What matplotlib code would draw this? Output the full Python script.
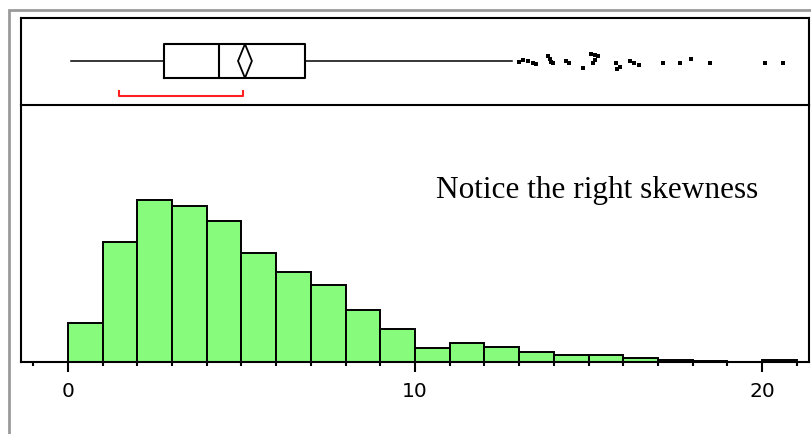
import matplotlib
matplotlib.use("Agg")
import matplotlib.pyplot as plt
from matplotlib.patches import Rectangle, Polygon

# histogram: bins of width 1 starting at 0, heights
bin_left = list(range(0, 21))
counts = [39, 120, 162, 156, 141, 109, 90, 77, 52, 33, 14, 19, 15, 10, 7, 7, 4, 2, 1, 0, 2]

# box plot summary
whis_lo, q1, median, q3, whis_hi = 0.09, 2.77, 4.35, 6.83, 12.8
mean, mean_ci = 5.1, 0.2
short_lo, short_hi = 1.47, 5.04

# outliers (x value, vertical position inside the box panel)
out_x = [13.01, 13.12, 13.27, 13.39, 13.49, 13.82, 13.89, 13.93, 13.99, 14.35, 14.45,
         14.85, 15.07, 15.19, 15.28, 15.19, 15.14, 15.79, 15.81, 15.91, 16.2, 16.31,
         16.46, 17.14, 17.64, 17.94, 18.5, 20.09, 20.61]
out_y = [0.498, 0.517, 0.509, 0.486, 0.471, 0.567, 0.525, 0.494, 0.486, 0.509, 0.479,
         0.422, 0.583, 0.575, 0.563, 0.517, 0.479, 0.486, 0.410, 0.433, 0.509, 0.486,
         0.456, 0.486, 0.486, 0.529, 0.486, 0.486, 0.486]

tick_vals = [0, 10, 20]
note = "Notice the right skewness"

W, H = 811, 434
fig = plt.figure(figsize=(W / 100, H / 100), dpi=100)
fig.patch.set_facecolor("white")

# gray outer border (only left and top visible)
fig.patches.append(Rectangle((9 / W, -0.1), 2, 1 - 10 / H + 0.1, transform=fig.transFigure,
                             fill=False, edgecolor="#9a9a9a", lw=2))

x0, x1 = -1.354, 21.354
left, width = 21 / W, 788 / W
ax_box = fig.add_axes([left, 1 - 105 / H, width, 87 / H])
ax_hist = fig.add_axes([left, 1 - 362 / H, width, 257 / H])
ax_hist.set_facecolor("none")

# --- box panel
ax_box.set_xlim(x0, x1)
ax_box.set_ylim(0, 1)
yc = 0.506
stats = [dict(med=median, q1=q1, q3=q3, whislo=whis_lo, whishi=whis_hi, fliers=[])]
ax_box.bxp(stats, positions=[yc], widths=0.39, orientation="horizontal", showcaps=False,
           boxprops=dict(color="black", lw=1.5),
           medianprops=dict(color="black", lw=1.5),
           whiskerprops=dict(color="black", lw=1.1))
h = 0.39 / 2
ax_box.add_patch(Polygon([(mean - mean_ci, yc), (mean, yc + h), (mean + mean_ci, yc), (mean, yc - h)],
                         closed=True, fill=False, edgecolor="black", lw=1.3))
ax_box.plot(out_x, out_y, ls="none", marker="s", ms=2.6, color="black", mew=0)
ax_box.plot([short_lo, short_lo, short_hi, short_hi], [0.16, 0.103, 0.103, 0.16],
            color="#ff2020", lw=1.5)
ax_box.set_xticks([])
ax_box.set_yticks([])
for s in ax_box.spines.values():
    s.set_linewidth(1.5)

# --- histogram panel
ax_hist.bar(bin_left, counts, width=1, align="edge", color="#86fb7c", edgecolor="black", lw=1.4)
ax_hist.set_xlim(x0, x1)
ax_hist.set_ylim(0, 257)
ax_hist.set_yticks([])
ax_hist.spines["top"].set_visible(False)
for s in ["left", "right", "bottom"]:
    ax_hist.spines[s].set_linewidth(1.5)
ax_hist.set_xticks(tick_vals)
ax_hist.set_xticks(range(-1, 22), minor=True)
ax_hist.tick_params(axis="x", which="major", length=7.5, width=1.5, pad=7, labelsize=14.5)
ax_hist.tick_params(axis="x", which="minor", length=3, width=1.5)
for lab in ax_hist.get_xticklabels():
    lab.set_fontfamily("DejaVu Sans")
ax_hist.text(0.731, 0.669, note, transform=ax_hist.transAxes, ha="center", va="center",
             fontsize=22.5, family="Liberation Serif")

fig.savefig("out.png", dpi=100)
